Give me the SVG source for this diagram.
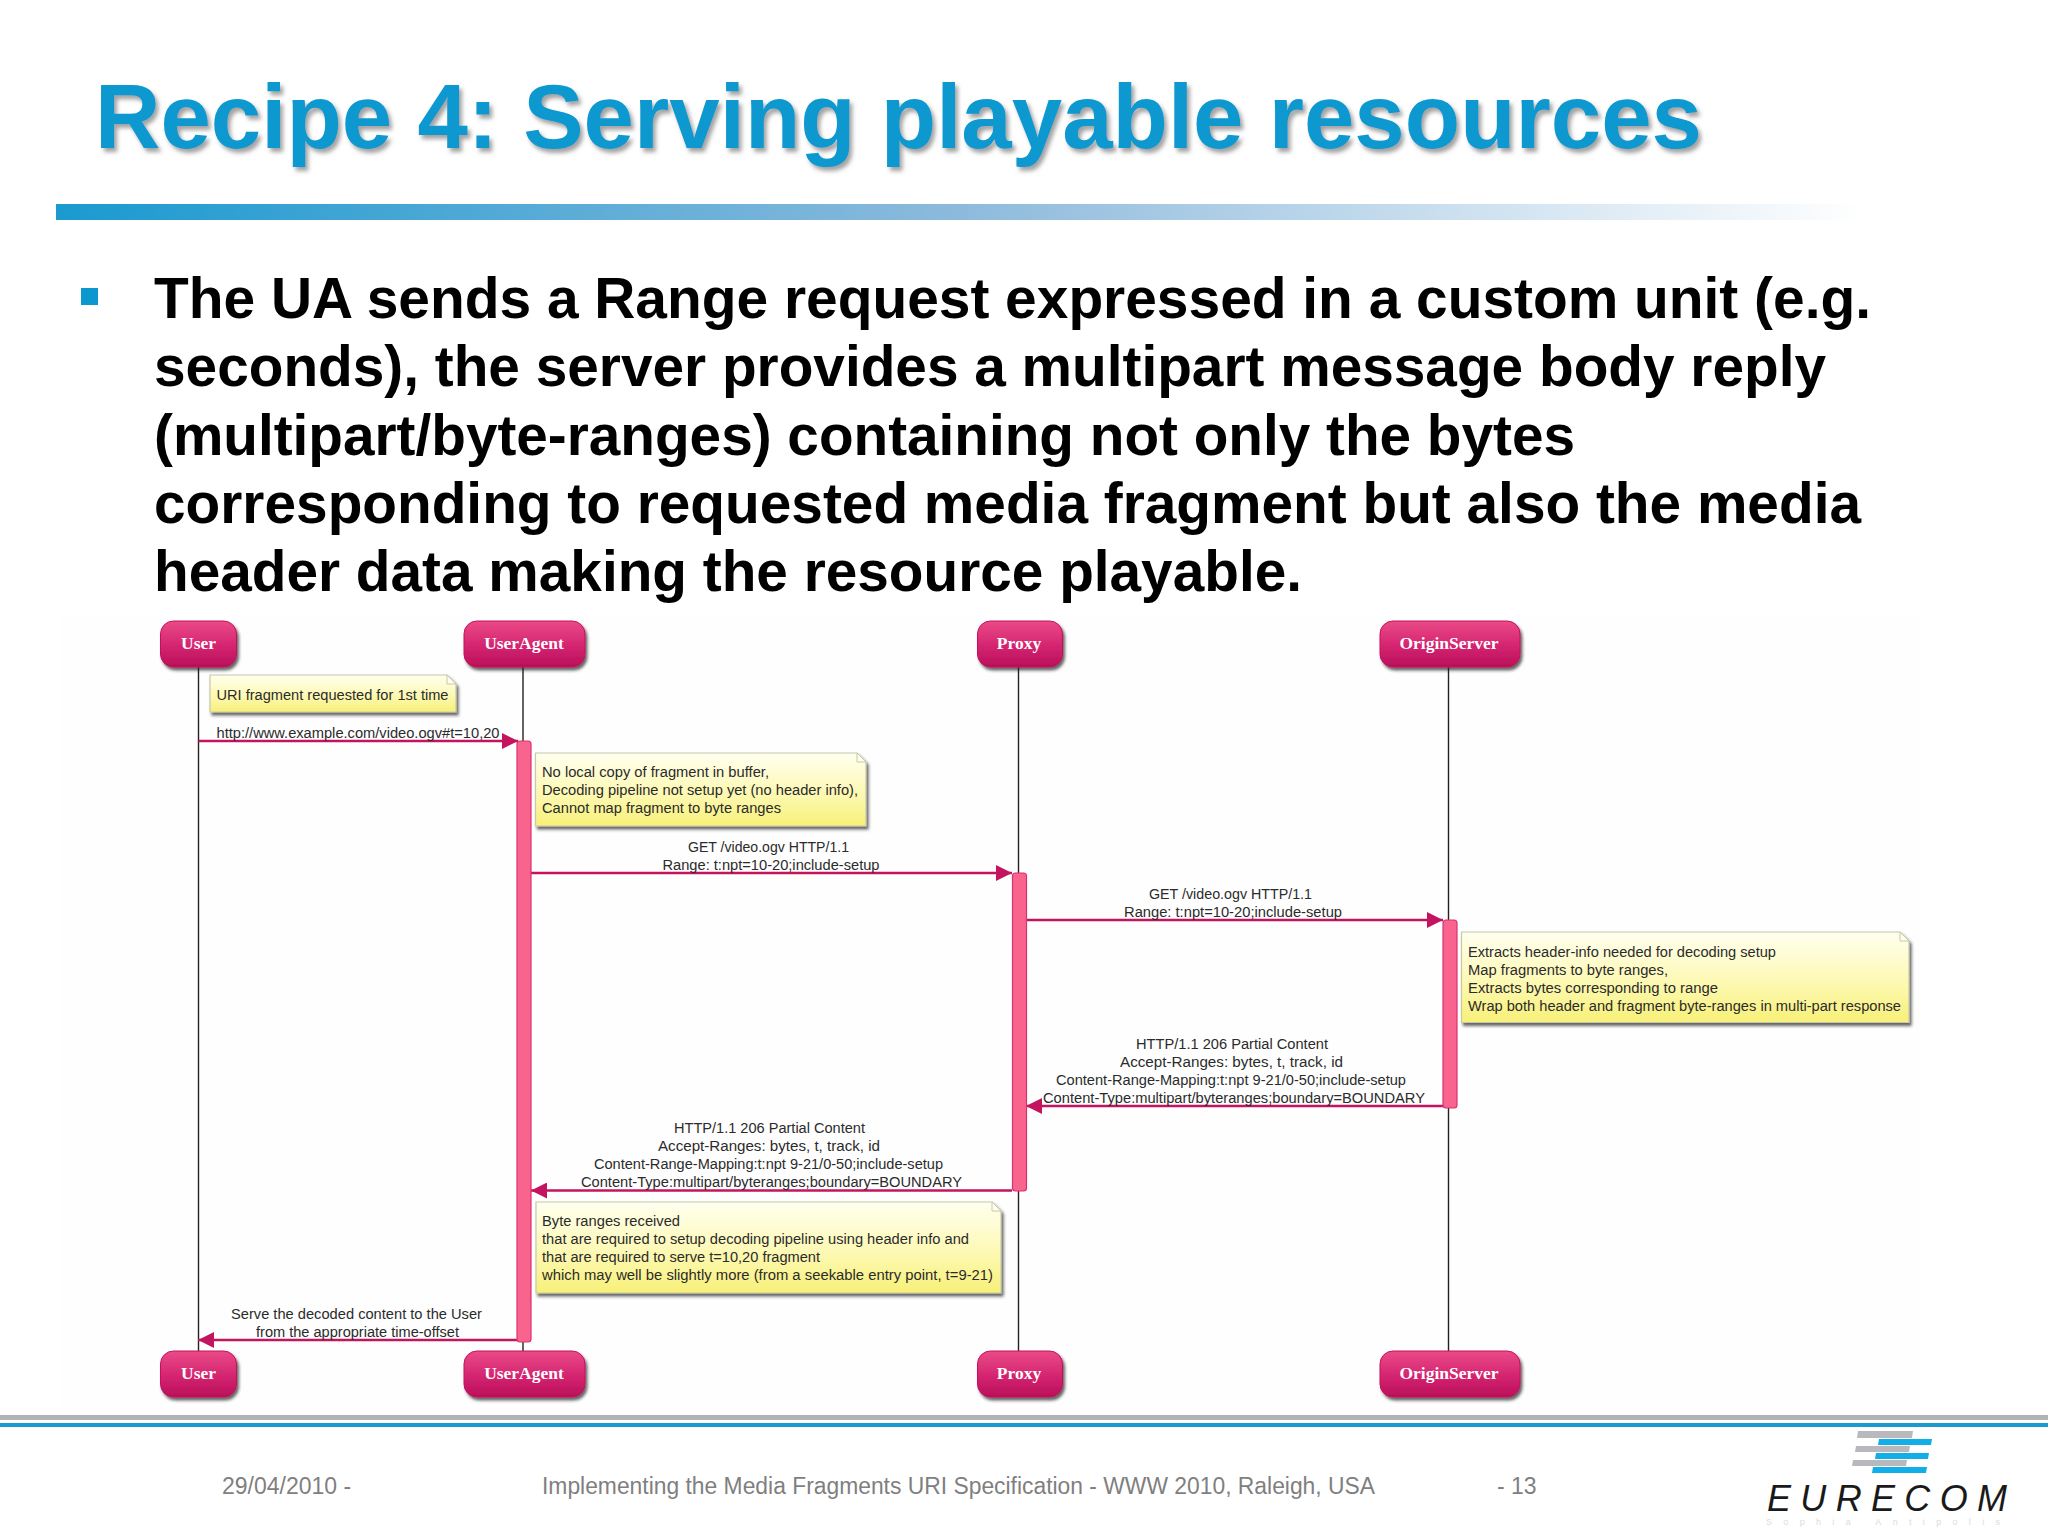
<svg xmlns="http://www.w3.org/2000/svg" width="2048" height="1536" viewBox="0 0 2048 1536">
<style>
.title{font:bold 90px "Liberation Sans",Arial,sans-serif;fill:#0a98cf}
.body{font:bold 57px "Liberation Sans",Arial,sans-serif;fill:#000}
.foot{font:23px "Liberation Sans",Arial,sans-serif;fill:#7f7f7f}
.lbl{font:15.5px "Liberation Sans",Arial,sans-serif;fill:#2b2b2b}
.nlbl{font:bold 17.5px "Liberation Serif","Times New Roman",serif;fill:#fff;text-anchor:middle}
.life{stroke:#222;stroke-width:1.4;fill:none}
.msg{stroke:#c4145f;stroke-width:2.4;fill:none}
.act{fill:#f9648f;stroke:#d8336f;stroke-width:1.2}
.nbox{fill:url(#ng);stroke:#c8105c;stroke-width:1;filter:url(#sh)}
.note{fill:url(#yg);stroke:#c8c8a8;stroke-width:1.2;filter:url(#sh)}
.fold{fill:#fffff0;stroke:#c8c8a8;stroke-width:1}
</style>
<defs>
<linearGradient id="bar"><stop offset="0" stop-color="#1a9ad0"/><stop offset=".5" stop-color="#8dbadc"/><stop offset="1" stop-color="#fff"/></linearGradient>
<linearGradient id="ng" x1="0" y1="0" x2="0" y2="1"><stop offset="0" stop-color="#ea4a88"/><stop offset=".55" stop-color="#d42470"/><stop offset="1" stop-color="#b90f5a"/></linearGradient>
<linearGradient id="yg" x1="0" y1="0" x2="0" y2="1"><stop offset="0" stop-color="#fffff0"/><stop offset=".55" stop-color="#fdf9b4"/><stop offset="1" stop-color="#f7f078"/></linearGradient>
<filter id="sh" x="-10%" y="-20%" width="120%" height="140%"><feDropShadow dx="2" dy="3" stdDeviation="1.5" flood-color="#222" flood-opacity=".7"/></filter>
<filter id="ts" x="-5%" y="-20%" width="110%" height="140%"><feDropShadow dx="3" dy="4" stdDeviation="2" flood-color="#555" flood-opacity=".55"/></filter>
<marker id="ah" markerUnits="userSpaceOnUse" markerWidth="16" markerHeight="16" refX="16" refY="8" orient="auto-start-reverse"><path d="M0 0L16 8L0 16z" fill="#c4145f"/></marker>
</defs>
<rect width="2048" height="1536" fill="#fff"/>
<rect x="60" y="615" width="1860" height="795" fill="#fefefe"/>
<text class="title" x="95" y="148" textLength="1607" lengthAdjust="spacingAndGlyphs" filter="url(#ts)">Recipe 4: Serving playable resources</text>
<rect x="56" y="204" width="1810" height="16" fill="url(#bar)"/>
<rect x="81" y="288" width="17" height="17" fill="#0a98cf"/>
<text class="body" x="154" y="318" textLength="1717" lengthAdjust="spacingAndGlyphs">The UA sends a Range request expressed in a custom unit (e.g.</text>
<text class="body" x="154" y="386" textLength="1672" lengthAdjust="spacingAndGlyphs">seconds), the server provides a multipart message body reply</text>
<text class="body" x="154" y="454.500" textLength="1421" lengthAdjust="spacingAndGlyphs">(multipart/byte-ranges) containing not only the bytes</text>
<text class="body" x="154" y="523" textLength="1707" lengthAdjust="spacingAndGlyphs">corresponding to requested media fragment but also the media</text>
<text class="body" x="154" y="591" textLength="1148" lengthAdjust="spacingAndGlyphs">header data making the resource playable.</text>

<g id="connectors">
<path class="life" d="M198.500 667V1351M523 667V1351M1018.500 667V1351M1448.500 667V1351"/>
<path class="msg" d="M198.500 741H518" marker-end="url(#ah)"/>
<path class="msg" d="M531 873H1012" marker-end="url(#ah)"/>
<path class="msg" d="M1026 920H1443" marker-end="url(#ah)"/>
<path class="msg" d="M1443 1106H1026" marker-end="url(#ah)"/>
<path class="msg" d="M1012 1190.500H531" marker-end="url(#ah)"/>
<path class="msg" d="M517 1340H198" marker-end="url(#ah)"/>
<rect class="act" x="517" y="741" width="14" height="601" rx="3"/>
<rect class="act" x="1012.500" y="873" width="14" height="318" rx="3"/>
<rect class="act" x="1443" y="920" width="14" height="188" rx="3"/>
<text class="lbl" x="216.500" y="738" textLength="283" lengthAdjust="spacingAndGlyphs">http://www.example.com/video.ogv#t=10,20</text>
<text class="lbl" x="688" y="852" textLength="161" lengthAdjust="spacingAndGlyphs">GET /video.ogv HTTP/1.1</text>
<text class="lbl" x="662.500" y="870" textLength="217" lengthAdjust="spacingAndGlyphs">Range: t:npt=10-20;include-setup</text>
<text class="lbl" x="1149" y="899" textLength="163" lengthAdjust="spacingAndGlyphs">GET /video.ogv HTTP/1.1</text>
<text class="lbl" x="1124" y="917" textLength="218" lengthAdjust="spacingAndGlyphs">Range: t:npt=10-20;include-setup</text>
<text class="lbl" x="1136" y="1049" textLength="192" lengthAdjust="spacingAndGlyphs">HTTP/1.1 206 Partial Content</text>
<text class="lbl" x="1120" y="1067" textLength="223" lengthAdjust="spacingAndGlyphs">Accept-Ranges: bytes, t, track, id</text>
<text class="lbl" x="1056" y="1085" textLength="350" lengthAdjust="spacingAndGlyphs">Content-Range-Mapping:t:npt 9-21/0-50;include-setup</text>
<text class="lbl" x="1043" y="1103" textLength="382" lengthAdjust="spacingAndGlyphs">Content-Type:multipart/byteranges;boundary=BOUNDARY</text>
<text class="lbl" x="674" y="1133" textLength="191" lengthAdjust="spacingAndGlyphs">HTTP/1.1 206 Partial Content</text>
<text class="lbl" x="658" y="1151" textLength="222" lengthAdjust="spacingAndGlyphs">Accept-Ranges: bytes, t, track, id</text>
<text class="lbl" x="594" y="1169" textLength="349" lengthAdjust="spacingAndGlyphs">Content-Range-Mapping:t:npt 9-21/0-50;include-setup</text>
<text class="lbl" x="581" y="1187" textLength="381" lengthAdjust="spacingAndGlyphs">Content-Type:multipart/byteranges;boundary=BOUNDARY</text>
<text class="lbl" x="231" y="1319" textLength="251" lengthAdjust="spacingAndGlyphs">Serve the decoded content to the User</text>
<text class="lbl" x="256" y="1337" textLength="203" lengthAdjust="spacingAndGlyphs">from the appropriate time-offset</text>
</g>

<g id="node-user-top"><rect class="nbox" x="160.500" y="621" width="76" height="46" rx="13"/><text class="nlbl" x="198.500" y="649">User</text></g>
<g id="node-useragent-top"><rect class="nbox" x="464" y="621" width="121" height="46" rx="13"/><text class="nlbl" x="524" y="649">UserAgent</text></g>
<g id="node-proxy-top"><rect class="nbox" x="977.500" y="621" width="85" height="46" rx="13"/><text class="nlbl" x="1019" y="649">Proxy</text></g>
<g id="node-origin-top"><rect class="nbox" x="1380" y="621" width="140" height="46" rx="13"/><text class="nlbl" x="1449" y="649">OriginServer</text></g>
<g id="node-user-bottom"><rect class="nbox" x="160.500" y="1351" width="76" height="46" rx="13"/><text class="nlbl" x="198.500" y="1379">User</text></g>
<g id="node-useragent-bottom"><rect class="nbox" x="464" y="1351" width="121" height="46" rx="13"/><text class="nlbl" x="524" y="1379">UserAgent</text></g>
<g id="node-proxy-bottom"><rect class="nbox" x="977.500" y="1351" width="85" height="46" rx="13"/><text class="nlbl" x="1019" y="1379">Proxy</text></g>
<g id="node-origin-bottom"><rect class="nbox" x="1380" y="1351" width="140" height="46" rx="13"/><text class="nlbl" x="1449" y="1379">OriginServer</text></g>

<g id="note-1"><path class="note" d="M210 675H447L456 684V712H210z"/><path class="fold" d="M447 675V684H456z"/>
<text class="lbl" x="216.500" y="700" textLength="232" lengthAdjust="spacingAndGlyphs">URI fragment requested for 1st time</text></g>
<g id="note-2"><path class="note" d="M535.500 753H857L866 762V826H535.500z"/><path class="fold" d="M857 753V762H866z"/>
<text class="lbl" x="542" y="777" textLength="227" lengthAdjust="spacingAndGlyphs">No local copy of fragment in buffer,</text>
<text class="lbl" x="542" y="795" textLength="316" lengthAdjust="spacingAndGlyphs">Decoding pipeline not setup yet (no header info),</text>
<text class="lbl" x="542" y="813" textLength="239" lengthAdjust="spacingAndGlyphs">Cannot map fragment to byte ranges</text></g>
<g id="note-3"><path class="note" d="M1461.500 932H1900L1909 941V1022.500H1461.500z"/><path class="fold" d="M1900 932V941H1909z"/>
<text class="lbl" x="1468" y="957" textLength="308" lengthAdjust="spacingAndGlyphs">Extracts header-info needed for decoding setup</text>
<text class="lbl" x="1468" y="975" textLength="200" lengthAdjust="spacingAndGlyphs">Map fragments to byte ranges,</text>
<text class="lbl" x="1468" y="993" textLength="250" lengthAdjust="spacingAndGlyphs">Extracts bytes corresponding to range</text>
<text class="lbl" x="1468" y="1011" textLength="433" lengthAdjust="spacingAndGlyphs">Wrap both header and fragment byte-ranges in multi-part response</text></g>
<g id="note-4"><path class="note" d="M536 1202H992L1001 1211V1293H536z"/><path class="fold" d="M992 1202V1211H1001z"/>
<text class="lbl" x="542" y="1226" textLength="138" lengthAdjust="spacingAndGlyphs">Byte ranges received</text>
<text class="lbl" x="542" y="1244" textLength="427" lengthAdjust="spacingAndGlyphs">that are required to setup decoding pipeline using header info and</text>
<text class="lbl" x="542" y="1262" textLength="278" lengthAdjust="spacingAndGlyphs">that are required to serve t=10,20 fragment</text>
<text class="lbl" x="542" y="1280" textLength="451" lengthAdjust="spacingAndGlyphs">which may well be slightly more (from a seekable entry point, t=9-21)</text></g>

<rect x="0" y="1415" width="2048" height="5" fill="#b3b3b3"/>
<rect x="0" y="1423" width="2048" height="4" fill="#1a9ad0"/>
<text class="foot" x="222" y="1494">29/04/2010 -</text>
<text class="foot" x="542" y="1494" textLength="833" lengthAdjust="spacingAndGlyphs">Implementing the Media Fragments URI Specification - WWW 2010, Raleigh, USA</text>
<text class="foot" x="1497" y="1494">- 13</text>
<g id="logo">
<path fill="#12aee8" d="M1879 1439H1932L1931 1445H1878zM1876 1453H1929L1928 1459H1875zM1873 1467H1927L1926 1473H1872z"/>
<path fill="#b9b9bd" d="M1858 1431H1913L1912 1438H1857zM1856 1446H1910L1909 1452H1855zM1853 1460H1907L1906 1466H1852z"/>
<text x="1767" y="1511" textLength="240" font-family="Liberation Sans, Arial, sans-serif" font-style="italic" font-size="36" fill="#1a1a1a">EURECOM</text>
<text x="1766" y="1525" textLength="234" font-family="Liberation Sans, Arial, sans-serif" font-size="9" fill="#dcdcdc">Sophia Antipolis</text>
</g>
</svg>
